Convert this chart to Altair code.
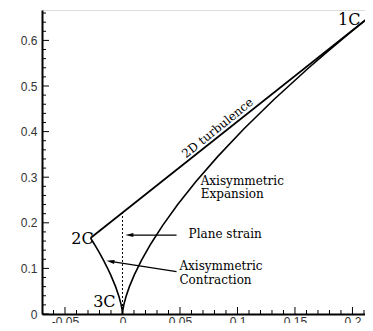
import altair as alt
import pandas as pd

# Two-component (2D turbulence) limit: 2C -> 1C
turb_x = [-0.02778, 0.22222]
turb_y = [0.16667, 0.66667]

# Axisymmetric expansion: 3C -> 1C
exp_x = [0.0, 0.000006, 0.000048, 0.000384, 0.001296, 0.003072, 0.006, 0.010368,
         0.016464, 0.024576, 0.034992, 0.048, 0.063888, 0.082944, 0.105456,
         0.131712, 0.162, 0.178746, 0.196608, 0.215622, 0.22222]
exp_y = [0.0, 0.0006, 0.0024, 0.0096, 0.0216, 0.0384, 0.06, 0.0864,
         0.1176, 0.1536, 0.1944, 0.24, 0.2904, 0.3456, 0.4056,
         0.4704, 0.54, 0.5766, 0.6144, 0.6534, 0.66667]

# Axisymmetric contraction: 3C -> 2C
con_x = [0.0, -0.000006, -0.000048, -0.000384, -0.001296, -0.003072, -0.006,
         -0.010368, -0.013182, -0.016464, -0.02025, -0.024576, -0.02778]
con_y = [0.0, 0.0006, 0.0024, 0.0096, 0.0216, 0.0384, 0.06,
         0.0864, 0.1014, 0.1176, 0.135, 0.1536, 0.16667]

# Plane strain (dotted)
ps_x = [0.0, 0.0]
ps_y = [0.0, 0.22222]

# Tick values
x_major = [-0.05, 0, 0.05, 0.1, 0.15, 0.2]
x_minor = [-0.06, -0.04, -0.03, -0.02, -0.01, 0.01, 0.02, 0.03, 0.04, 0.06, 0.07,
           0.08, 0.09, 0.11, 0.12, 0.13, 0.14, 0.16, 0.17, 0.18, 0.19, 0.21]
y_major = [0, 0.1, 0.2, 0.3, 0.4, 0.5, 0.6]
y_minor = [0.02, 0.04, 0.06, 0.08, 0.12, 0.14, 0.16, 0.18, 0.22, 0.24, 0.26, 0.28,
           0.32, 0.34, 0.36, 0.38, 0.42, 0.44, 0.46, 0.48, 0.52, 0.54, 0.56, 0.58,
           0.62, 0.64, 0.66]

# Annotations
corner_labels = ["1C", "2C", "3C"]
corner_x = [0.207, -0.025, -0.006]
corner_y = [0.634, 0.165, 0.015]
corner_baseline = ["alphabetic", "middle", "alphabetic"]

turb_label = "2D turbulence"
turb_label_x = 0.0826
turb_label_y = 0.408

exp_label = ["Axisymmetric", "Expansion"]
exp_label_x = 0.068
exp_label_y = 0.292

ps_label = "Plane strain"
ps_label_x = 0.0575
ps_label_y = 0.175

con_label = ["Axisymmetric", "Contraction"]
con_label_x = 0.0495
con_label_y = 0.106

# Arrows (start, end = arrow-head centre)
ps_arrow_x = [0.047, 0.006]
ps_arrow_y = [0.173, 0.173]
con_arrow_x = [0.047, -0.0105]
con_arrow_y = [0.093, 0.1153]

W, H = 323, 304
xs = alt.Scale(domain=[-0.07, 0.2109], nice=False, zero=False)
ys = alt.Scale(domain=[0, 0.66667], nice=False, zero=False)

def curve(xv, yv):
    return pd.DataFrame({"x": xv, "y": yv, "o": list(range(len(xv)))})

X = alt.X("x:Q", scale=xs, title=None,
          axis=alt.Axis(values=x_major, ticks=False, grid=False, domainColor="black",
                        domainWidth=2, labelExpr="'' + datum.value", labelPadding=2,
                        labelFont="Liberation Sans", labelFontSize=12, labelColor="#333"))
Y = alt.Y("y:Q", scale=ys, title=None,
          axis=alt.Axis(values=y_major, ticks=False, grid=False, domainColor="black",
                        domainWidth=2, labelExpr="'' + datum.value", labelPadding=5,
                        labelFont="Liberation Sans", labelFontSize=12, labelColor="#333"))

def line(df, **kw):
    return alt.Chart(df).mark_line(color="black", **kw).encode(
        x=X, y=Y, order="o:Q")

turb = line(curve(turb_x, turb_y), strokeWidth=1.8)
expn = line(curve(exp_x, exp_y), strokeWidth=1.6)
cont = line(curve(con_x, con_y), strokeWidth=1.6)
ps = line(curve(ps_x, ps_y), strokeWidth=1, strokeDash=[2, 2])
a1 = line(curve(ps_arrow_x, ps_arrow_y), strokeWidth=1.2)
a2 = line(curve(con_arrow_x, con_arrow_y), strokeWidth=1.2)

head_shape = "M-1,0L1,-0.5L1,0.5Z"
h1 = alt.Chart(pd.DataFrame({"x": [ps_arrow_x[1]], "y": [ps_arrow_y[1]]})).mark_point(
    shape=head_shape, filled=True, color="black", size=64, opacity=1).encode(
    x=alt.X("x:Q", scale=xs), y=alt.Y("y:Q", scale=ys))
h2 = alt.Chart(pd.DataFrame({"x": [con_arrow_x[1]], "y": [con_arrow_y[1]]})).mark_point(
    shape=head_shape, filled=True, color="black", size=64, opacity=1, angle=9).encode(
    x=alt.X("x:Q", scale=xs), y=alt.Y("y:Q", scale=ys))

# Ticks (inward)
def xticks(vals, ln):
    return alt.Chart(pd.DataFrame({"x": vals})).mark_rule(color="black", strokeWidth=1).encode(
        x=alt.X("x:Q", scale=xs), y=alt.value(H), y2=alt.value(H - ln))

def yticks(vals, ln):
    return alt.Chart(pd.DataFrame({"y": vals})).mark_rule(color="black", strokeWidth=1).encode(
        y=alt.Y("y:Q", scale=ys), x=alt.value(0), x2=alt.value(ln))

ticks = [xticks(x_major, 7), xticks(x_minor, 4), yticks(y_major, 7), yticks(y_minor, 4)]

serif = "DejaVu Serif"
corner = []
for lab, cx, cy, bl in zip(corner_labels, corner_x, corner_y, corner_baseline):
    corner.append(alt.Chart(pd.DataFrame({"x": [cx], "y": [cy], "t": [lab]})).mark_text(
        font=serif, fontSize=16, align="right", baseline=bl, color="black").encode(
        x=alt.X("x:Q", scale=xs), y=alt.Y("y:Q", scale=ys), text="t:N"))

def txt(t, tx, ty, **kw):
    return alt.Chart(pd.DataFrame({"x": [tx], "y": [ty], "t": [t]})).mark_text(
        font=serif, fontSize=12, color="black", **kw).encode(
        x=alt.X("x:Q", scale=xs), y=alt.Y("y:Q", scale=ys), text="t:N")

t_turb = txt(turb_label, turb_label_x, turb_label_y, align="center", baseline="middle", angle=321)
t_exp = txt(exp_label, exp_label_x, exp_label_y, align="left", baseline="middle", lineHeight=13)
t_ps = txt(ps_label, ps_label_x, ps_label_y, align="left", baseline="middle")
t_con = txt(con_label, con_label_x, con_label_y, align="left", baseline="middle", lineHeight=14)

chart = alt.layer(turb, expn, cont, ps, a1, a2, h1, h2, *ticks, *corner,
                  t_turb, t_exp, t_ps, t_con).properties(
    width=W, height=H, autosize=alt.AutoSizeParams(type="none"),
    padding={"left": 34, "top": 2, "right": 0, "bottom": 9}
).configure_view(stroke=None).configure(background="white")

chart.save("out.html", embed_options={"renderer": "svg", "actions": False})
